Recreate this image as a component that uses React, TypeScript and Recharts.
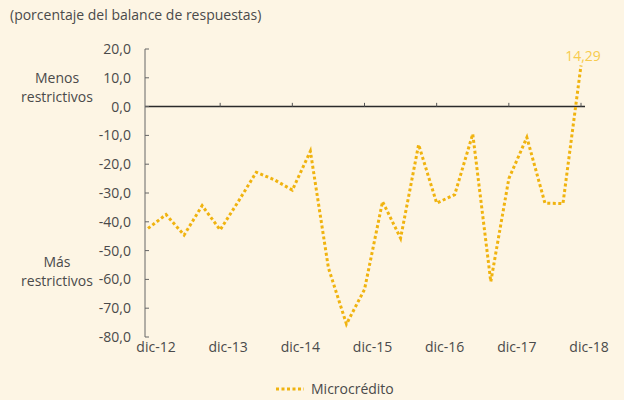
import React from "react";
import {
  LabelList,
  Line,
  LineChart,
  ReferenceLine,
  XAxis,
  YAxis,
} from "recharts";

const quarters = [
  "dic-12", "mar-13", "jun-13", "sep-13",
  "dic-13", "mar-14", "jun-14", "sep-14",
  "dic-14", "mar-15", "jun-15", "sep-15",
  "dic-15", "mar-16", "jun-16", "sep-16",
  "dic-16", "mar-17", "jun-17", "sep-17",
  "dic-17", "mar-18", "jun-18", "sep-18",
  "dic-18",
];

const microcredito = [
  -42.3, -37.5, -44.6, -34.4,
  -42.8, -33.0, -22.8, -25.4,
  -29.0, -15.5, -56.0, -75.5,
  -63.5, -33.0, -45.7, -13.2,
  -33.5, -30.6, -9.5, -60.8,
  -25.0, -10.7, -33.5, -33.7,
  14.29,
];

const yTicks = [20, 10, 0, -10, -20, -30, -40, -50, -60, -70, -80];
const yearTicks = ["dic-13", "dic-14", "dic-15", "dic-16", "dic-17", "dic-18"];

const data = quarters.map((q, i) => ({ q, microcredito: microcredito[i] }));

const GOLD = "#f0b30f";
const TEXT = "#4a4a4a";

const fmt = (v: number) => v.toFixed(1).replace(".", ",");

const XTick = (props: any) => {
  const { x, y, payload } = props;
  return (
    <text x={x + 8} y={y} dy={10} textAnchor="middle" fill={TEXT} fontSize={14}>
      {payload.value}
    </text>
  );
};

const lastLabel = (props: any) => {
  const { x, y, index, value } = props;
  if (index !== quarters.length - 1) return null;
  return (
    <text x={x + 2} y={y - 4} textAnchor="middle" fill="#f7cb4d" fontSize={14}>
      {String(value).replace(".", ",")}
    </text>
  );
};

export default function App() {
  return (
    <div
      style={{
        position: "absolute",
        left: 0,
        top: 0,
        width: 624,
        height: 400,
        background: "#fdf5e4",
        fontFamily: "'Open Sans', sans-serif",
        color: TEXT,
      }}
    >
      <div style={{ position: "absolute", left: 10, top: 5, fontSize: 14 }}>
        (porcentaje del balance de respuestas)
      </div>
      <div
        style={{ position: "absolute", left: 0, width: 114, top: 68, fontSize: 14, textAlign: "center", lineHeight: "19px" }}
      >
        Menos
        <br />
        restrictivos
      </div>
      <div
        style={{ position: "absolute", left: 0, width: 114, top: 252, fontSize: 14, textAlign: "center", lineHeight: "19px" }}
      >
        Más
        <br />
        restrictivos
      </div>

      <LineChart
        width={624}
        height={400}
        data={data}
        margin={{ top: 49, right: 39, bottom: 43, left: 0 }}
      >
        <XAxis
          dataKey="q"
          interval={3}
          padding={{ left: 3, right: 4 }}
          axisLine={false}
          tickLine={false}
          tickSize={0}
          tickMargin={5}
          height={20}
          tick={<XTick />}
        />
        <YAxis
          width={145}
          domain={[-80, 20]}
          ticks={yTicks}
          interval={0}
          tickFormatter={fmt}
          tickSize={-4}
          tickMargin={18}
          stroke="#666"
          tick={{ fill: TEXT, fontSize: 14 }}
        />
        <ReferenceLine y={0} stroke="#2b2b2b" strokeWidth={1.5} />
        {yearTicks.map((t) => (
          <ReferenceLine
            key={t}
            segment={[
              { x: t, y: 0 },
              { x: t, y: 1.3 },
            ]}
            stroke="#555"
          />
        ))}
        <Line
          type="linear"
          dataKey="microcredito"
          stroke={GOLD}
          strokeWidth={3}
          strokeDasharray="3 2.5"
          dot={false}
          activeDot={false}
          isAnimationActive={false}
        >
          <LabelList dataKey="microcredito" content={lastLabel} />
        </Line>
      </LineChart>

      <div
        style={{
          position: "absolute",
          left: 276,
          top: 379,
          display: "flex",
          alignItems: "center",
          fontSize: 14,
        }}
      >
        <svg width={28} height={8}>
          <line x1={0} y1={4} x2={28} y2={4} stroke={GOLD} strokeWidth={3} strokeDasharray="3 2.5" />
        </svg>
        <span style={{ marginLeft: 7 }}>Microcrédito</span>
      </div>
    </div>
  );
}
